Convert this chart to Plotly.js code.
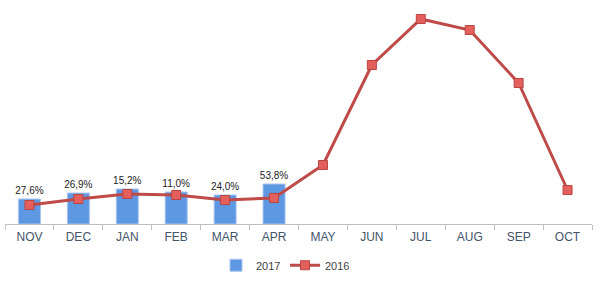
<!DOCTYPE html>
<html><head><meta charset="utf-8">
<script src="https://cdn.plot.ly/plotly-3.0.1.min.js"></script>
<style>html,body{margin:0;padding:0;background:#fff}#chart{width:600px;height:284px}</style>
</head><body><div id="chart"></div>
<script>
var months = ["NOV","DEC","JAN","FEB","MAR","APR","MAY","JUN","JUL","AUG","SEP","OCT"];
var bars2017 = [25, 31, 35, 32, 29, 40];
var labels2017 = ["27,6%","26,9%","15,2%","11,0%","24,0%","53,8%"];
var line2016 = [19, 25, 30, 29, 24, 26, 59, 159, 205, 194, 141, 34];

var traces = [
  {type:"bar", name:"2017", x: months.slice(0, bars2017.length), y: bars2017,
   text: labels2017, textposition:"outside", cliponaxis:false, constraintext:"none",
   textfont:{family:"Liberation Sans, Arial", size:10, color:"#222"},
   marker:{color:"#5f98e2", line:{color:"#a8c6ee", width:1}}, width:0.45, hoverinfo:"skip"},
  {type:"scatter", mode:"lines+markers", name:"2016", x: months, y: line2016,
   line:{color:"#be4b48", width:3},
   marker:{symbol:"square", size:9, color:"#e3605d", line:{color:"#b94543", width:1}}, cliponaxis:false}
];
var layout = {
  width:600, height:284,
  margin:{l:5, r:8, t:10, b:60},
  paper_bgcolor:"#fff", plot_bgcolor:"#fff",
  showlegend:true,
  legend:{orientation:"h", x:0.475, xanchor:"center", xref:"container", yref:"container", y:0.015, yanchor:"bottom",
          font:{family:"Liberation Sans, Arial", size:11, color:"#404040"}, itemwidth:30,
          entrywidth:24, entrywidthmode:"pixels"},
  xaxis:{type:"category", categoryorder:"array", categoryarray:months,
         showline:true, linecolor:"#bfbfbf", linewidth:1,
         ticks:"outside", tickson:"boundaries", ticklen:5, tickcolor:"#bfbfbf", ticklabelstandoff:2,
         tickfont:{family:"Liberation Sans, Arial", size:12, color:"#44546a"},
         showgrid:false, zeroline:false, range:[-0.5, 11.5], automargin:false},
  yaxis:{range:[0, 214], visible:false, showgrid:false, zeroline:false},
  bargap:0.55
};
Plotly.newPlot("chart", traces, layout, {displayModeBar:false, staticPlot:true});
</script></body></html>
